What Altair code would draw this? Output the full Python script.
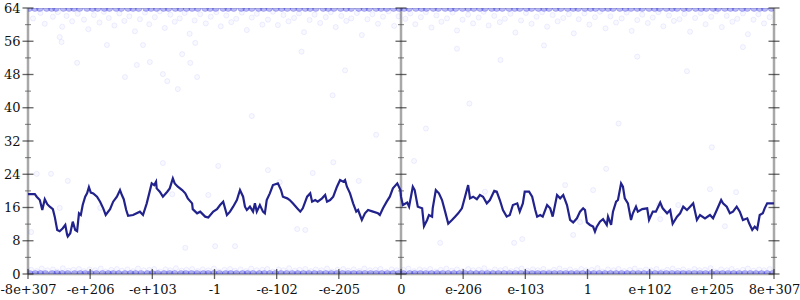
import altair as alt
import pandas as pd

# ---------------- data ----------------
x_labels = ["-8e+307", "-e+206", "-e+103", "-1", "-e-102", "-e-205", "0",
            "e-206", "e-103", "1", "e+102", "e+205", "8e+307"]
y_ticks = [0, 8, 16, 24, 32, 40, 48, 56, 64]
y_minor = [4, 12, 20, 28, 36, 44, 52, 60]

line_x = [0.0, 0.11, 0.14, 0.19, 0.23, 0.27, 0.31, 0.35, 0.40, 0.43, 0.47, 0.51, 0.56, 0.60,
          0.63, 0.64, 0.68, 0.72, 0.76, 0.79, 0.82, 0.85, 0.88, 0.92, 0.95, 0.98, 1.01, 1.05,
          1.11, 1.16, 1.21, 1.25, 1.32, 1.37, 1.43, 1.48, 1.51, 1.54, 1.58, 1.61, 1.69, 1.80,
          1.85, 1.91, 1.95, 1.99, 2.03, 2.06, 2.07, 2.12, 2.17, 2.24, 2.28, 2.33, 2.36, 2.41,
          2.48, 2.53, 2.57, 2.64, 2.65, 2.72, 2.77, 2.85, 2.90, 2.98, 3.04, 3.09, 3.14, 3.20,
          3.25, 3.30, 3.36, 3.41, 3.46, 3.49, 3.52, 3.57, 3.62, 3.65, 3.68, 3.73, 3.78, 3.81,
          3.84, 3.89, 3.94, 4.02, 4.07, 4.10, 4.17, 4.21, 4.26, 4.33, 4.38, 4.42, 4.49, 4.54,
          4.57, 4.62, 4.66, 4.73, 4.78, 4.81, 4.86, 4.91, 4.97, 5.02, 5.07, 5.10, 5.13, 5.18,
          5.23, 5.28, 5.31, 5.37, 5.42, 5.47, 5.55, 5.63, 5.66, 5.71, 5.77, 5.82, 5.87, 5.94,
          5.99,
          6.0, 6.03, 6.10, 6.13, 6.19, 6.22, 6.27, 6.34, 6.37, 6.42, 6.45, 6.50, 6.51, 6.56,
          6.61, 6.66, 6.71, 6.76, 6.82, 6.87, 6.92, 6.98, 7.03, 7.08, 7.11, 7.16, 7.22, 7.27,
          7.32, 7.38, 7.43, 7.50, 7.54, 7.59, 7.64, 7.70, 7.75, 7.80, 7.87, 7.91, 7.96, 7.99,
          8.06, 8.11, 8.16, 8.19, 8.24, 8.28, 8.35, 8.40, 8.44, 8.51, 8.56, 8.61, 8.67, 8.72,
          8.77, 8.83, 8.88, 8.93, 8.96, 8.99, 9.04, 9.09, 9.12, 9.15, 9.20, 9.25, 9.31, 9.33,
          9.38, 9.41, 9.46, 9.49, 9.54, 9.57, 9.60, 9.65, 9.70, 9.73, 9.78, 9.81, 9.88, 9.96,
          9.99, 10.05, 10.10, 10.17, 10.21, 10.28, 10.33, 10.37, 10.44, 10.49, 10.54, 10.60,
          10.65, 10.70, 10.76, 10.81, 10.89, 10.97, 11.02, 11.08, 11.15, 11.18, 11.24, 11.29,
          11.34, 11.40, 11.45, 11.50, 11.57, 11.60, 11.65, 11.69, 11.73, 11.77, 11.82, 11.85,
          11.89, 12.0]
line_y = [19.2, 19.2, 18.6, 17.8, 15.4, 18.0, 16.8, 16.2, 15.6, 13.8, 10.6, 10.3, 11.0, 11.8,
          9.4, 9.0, 9.8, 12.6, 10.6, 10.3, 14.6, 14.2, 16.6, 18.6, 19.4, 20.9, 19.6, 19.4,
          18.6, 17.4, 15.8, 14.2, 15.6, 17.4, 18.6, 20.2, 19.0, 18.0, 15.4, 14.0, 14.2, 15.0,
          14.2, 17.0, 19.4, 21.8, 21.4, 22.2, 20.6, 19.8, 18.6, 19.8, 20.6, 23.0, 21.8, 21.0,
          20.2, 19.4, 18.2, 17.0, 15.6, 14.6, 15.0, 13.8, 13.6, 15.0, 15.6, 16.6, 17.4, 14.2,
          15.0, 16.2, 17.8, 20.2, 18.6, 16.2, 15.4, 16.2, 15.0, 17.0, 15.0, 16.6, 15.0, 14.6,
          17.8, 19.4, 21.4, 21.8, 20.2, 18.6, 18.2, 17.8, 17.0, 15.8, 15.0, 15.8, 18.6, 19.4,
          17.4, 17.8, 17.4, 18.2, 19.0, 17.4, 17.8, 18.6, 21.0, 22.6, 22.2, 22.6, 21.0, 19.4,
          17.0, 15.0, 15.4, 13.0, 14.6, 15.4, 15.0, 14.6, 14.2, 15.8, 17.4, 18.6, 20.6, 21.8,
          20.2,
          18.6, 16.6, 17.2, 16.2, 21.0, 20.2, 16.2, 15.8, 11.5, 13.0, 14.2, 13.8, 15.8, 20.2,
          19.4, 17.8, 15.0, 12.1, 13.0, 13.8, 14.6, 15.8, 18.6, 21.4, 18.2, 18.6, 18.0, 19.0,
          18.6, 17.0, 17.8, 20.0, 19.8, 17.8, 15.4, 13.8, 14.2, 16.6, 17.0, 15.0, 17.0, 19.8,
          19.8, 18.6, 15.4, 13.8, 14.2, 13.8, 16.6, 15.8, 13.8, 19.0, 18.2, 19.0, 16.6, 13.0,
          12.4, 13.4, 15.0, 15.8, 15.4, 12.4, 11.8, 11.4, 10.2, 11.4, 12.6, 13.2, 11.8, 13.8,
          11.8, 15.0, 17.4, 17.8, 21.8, 21.0, 18.2, 17.0, 13.0, 14.6, 16.2, 15.0, 15.6, 15.8,
          13.0, 15.0, 15.0, 17.2, 15.8, 14.6, 15.4, 12.1, 13.8, 14.6, 16.2, 15.4, 16.2, 17.0,
          13.0, 14.2, 13.4, 14.2, 13.4, 15.4, 17.8, 17.0, 16.2, 14.6, 15.0, 16.2, 15.0, 13.0,
          13.4, 12.2, 10.6, 11.4, 10.8, 14.2, 14.6, 15.8, 17.0, 17.0]

top_row_x = [0.02, 0.11, 0.19, 0.3, 0.38, 0.45, 0.57, 0.66, 0.74, 0.83, 0.95, 1.04, 1.12, 1.23,
             1.31, 1.42, 1.5, 1.61, 1.69, 1.78, 1.9, 1.98, 2.07, 2.18, 2.26, 2.37, 2.45, 2.55,
             2.64, 2.73, 2.85, 2.93, 3.02, 3.14, 3.22, 3.31, 3.43, 3.51, 3.6, 3.71, 3.79, 3.88,
             3.99, 4.08, 4.17, 4.27, 4.36, 4.46, 4.54, 4.63, 4.75, 4.83, 4.92, 5.03, 5.12, 5.2,
             5.32, 5.41, 5.49, 5.6, 5.68, 5.77, 5.88, 5.97, 6.05, 6.13, 6.24, 6.33, 6.41, 6.52,
             6.6, 6.71, 6.8, 6.88, 6.99, 7.08, 7.17, 7.27, 7.35, 7.46, 7.54, 7.63, 7.74, 7.83,
             7.91, 8.02, 8.1, 8.21, 8.3, 8.38, 8.49, 8.57, 8.68, 8.77, 8.85, 8.96, 9.05, 9.13,
             9.24, 9.33, 9.41, 9.52, 9.61, 9.7, 9.8, 9.88, 9.99, 10.08, 10.16, 10.27, 10.36,
             10.44, 10.55, 10.63, 10.74, 10.83, 10.91, 11.02, 11.1, 11.21, 11.3, 11.38, 11.49,
             11.57, 11.68, 11.77, 11.85, 11.96]
bottom_row_x = [0.03, 0.12, 0.2, 0.28, 0.39, 0.47, 0.55, 0.64, 0.75, 0.84, 0.92, 1.01, 1.1,
                1.2, 1.29, 1.37, 1.46, 1.56, 1.65, 1.73, 1.82, 1.92, 2.0, 2.09, 2.19, 2.28,
                2.36, 2.46, 2.54, 2.63, 2.72, 2.82, 2.9, 2.99, 3.08, 3.18, 3.26, 3.35, 3.45,
                3.53, 3.62, 3.72, 3.8, 3.89, 3.98, 4.07, 4.16, 4.25, 4.34, 4.43, 4.52, 4.61,
                4.7, 4.79, 4.88, 4.97, 5.06, 5.15, 5.24, 5.33, 5.42, 5.51, 5.6, 5.69, 5.78,
                5.87, 5.96, 6.04, 6.14, 6.22, 6.31, 6.4, 6.49, 6.58, 6.67, 6.76, 6.85, 6.94,
                7.03, 7.12, 7.21, 7.3, 7.39, 7.48, 7.57, 7.66, 7.75, 7.84, 7.93, 8.02, 8.11,
                8.2, 8.29, 8.38, 8.47, 8.56, 8.65, 8.74, 8.83, 8.92, 9.01, 9.1, 9.19, 9.28,
                9.37, 9.46, 9.55, 9.64, 9.73, 9.82, 9.91, 10.0, 10.09, 10.18, 10.27, 10.36,
                10.45, 10.54, 10.63, 10.72, 10.81, 10.9, 10.99, 11.08, 11.17, 11.26, 11.35,
                11.44, 11.53, 11.62, 11.71, 11.8, 11.89, 11.98]

top_cloud_x = [0.08, 0.2, 0.27, 0.4, 0.48, 0.55, 0.62, 0.71, 0.8, 0.9, 0.97, 1.06, 1.15, 1.22,
               1.3, 1.39, 1.47, 1.55, 1.63, 1.72, 1.8, 1.88, 1.95, 2.04, 2.12, 2.2, 2.29, 2.36,
               2.44, 2.52, 2.6, 2.68, 2.77, 2.86, 2.94, 3.03, 3.1, 3.19, 3.27, 3.35, 3.44, 3.52,
               3.6, 3.68, 3.77, 3.86, 3.94, 4.02, 4.11, 4.19, 4.28, 4.36, 4.44, 4.53, 4.61, 4.7,
               4.79, 4.87, 4.95, 5.04, 5.12, 5.2, 5.29, 5.37, 5.46, 5.54, 5.63, 5.71, 5.8, 5.89,
               5.96, 6.07, 6.15, 6.23, 6.32, 6.4, 6.49, 6.57, 6.65, 6.74, 6.83, 6.9, 6.99, 7.08,
               7.16, 7.25, 7.33, 7.41, 7.5, 7.59, 7.67, 7.76, 7.84, 7.93, 8.01, 8.1, 8.18, 8.27,
               8.35, 8.44, 8.52, 8.61, 8.7, 8.78, 8.86, 8.95, 9.03, 9.12, 9.2, 9.29, 9.37, 9.46,
               9.55, 9.63, 9.71, 9.8, 9.88, 9.97, 10.05, 10.14, 10.22, 10.31, 10.39, 10.48,
               10.56, 10.65, 10.73, 10.82, 10.9, 10.99, 11.07, 11.16, 11.24, 11.33, 11.41, 11.5,
               11.58, 11.67, 11.75, 11.84, 11.93]
top_cloud_y = [61.5, 62.8, 60.2, 61.9, 63.0, 59.5, 62.1, 60.8, 62.6, 61.2, 58.9, 62.3, 60.5, 63.1,
               61.6, 59.8, 62.7, 60.9, 62.0, 58.4, 61.3, 62.9, 60.1, 61.8, 63.2, 59.2, 62.4, 60.7,
               61.5, 62.8, 57.8, 61.0, 62.5, 60.3, 61.9, 63.0, 59.6, 62.2, 60.6, 61.4, 62.9, 58.7,
               61.7, 62.6, 60.0, 61.2, 63.1, 59.9, 62.3, 60.8, 61.6, 62.7, 58.2, 61.1, 62.4, 60.4,
               61.8, 63.0, 59.4, 62.1, 60.9, 61.5, 62.8, 57.5, 61.3, 62.5, 60.2, 61.9, 63.2, 59.7,
               62.0, 61.4, 62.7, 60.1, 61.8, 63.0, 59.3, 62.2, 60.7, 61.5, 62.9, 58.6, 61.2, 62.4,
               60.3, 61.7, 63.1, 59.8, 62.1, 60.6, 61.4, 62.6, 58.1, 61.0, 62.8, 60.2, 61.9, 63.0,
               59.5, 62.3, 60.8, 61.6, 62.5, 57.9, 61.3, 62.7, 60.0, 61.8, 63.1, 59.1, 62.0, 60.5,
               61.5, 62.9, 58.5, 61.1, 62.4, 60.4, 61.7, 63.0, 59.6, 62.2, 60.9, 61.3, 62.6, 58.3,
               61.6, 62.8, 60.1, 61.9, 63.2, 59.4, 62.1, 60.7, 61.4, 62.7, 57.7, 61.2, 62.5, 60.3,
               61.8]

bottom_cloud_x = [0.05, 0.14, 0.22, 0.31, 0.4, 0.47, 0.56, 0.65, 0.73, 0.82, 0.9, 0.99, 1.08,
                  1.17, 1.25, 1.34, 1.43, 1.51, 1.6, 1.69, 1.77, 1.86, 1.95, 2.03, 2.12, 2.21,
                  2.29, 2.38, 2.47, 2.55, 2.64, 2.73, 2.81, 2.9, 2.99, 3.07, 3.16, 3.25, 3.33,
                  3.42, 3.51, 3.59, 3.68, 3.77, 3.85, 3.94, 4.03, 4.11, 4.2, 4.29, 4.37, 4.46,
                  4.55, 4.63, 4.72, 4.81, 4.89, 4.98, 5.07, 5.15, 5.24, 5.33, 5.41, 5.5, 5.59,
                  5.67, 5.76, 5.85, 5.93, 6.04, 6.12, 6.21, 6.3, 6.38, 6.47, 6.56, 6.64, 6.73,
                  6.82, 6.9, 6.99, 7.08, 7.16, 7.25, 7.34, 7.42, 7.51, 7.6, 7.68, 7.77, 7.86,
                  7.94, 8.03, 8.12, 8.2, 8.29, 8.38, 8.46, 8.55, 8.64, 8.72, 8.81, 8.9, 8.98,
                  9.07, 9.16, 9.24, 9.33, 9.42, 9.5, 9.59, 9.68, 9.76, 9.85, 9.94, 10.02, 10.11,
                  10.2, 10.28, 10.37, 10.46, 10.54, 10.63, 10.72, 10.8, 10.89, 10.98, 11.06,
                  11.15, 11.24, 11.32, 11.41, 11.5, 11.58, 11.67, 11.76, 11.84, 11.93]
bottom_cloud_y = [1.0, 0.7, 1.3, 0.9, 1.1, 0.6, 1.4, 0.8, 1.0, 1.2, 0.7, 1.1, 0.9, 1.3, 0.6, 1.0,
                  1.2, 0.8, 1.1, 0.7, 1.3, 0.9, 1.0, 1.2, 0.6, 1.1, 0.9, 1.4, 0.8, 1.0, 1.2, 0.7,
                  1.1, 0.9, 1.3, 0.6, 1.0, 1.2, 0.8, 1.1, 0.7, 1.3, 0.9, 1.0, 1.2, 0.6, 1.1, 0.9,
                  1.4, 0.8, 1.0, 1.2, 0.7, 1.1, 0.9, 1.3, 0.6, 1.0, 1.2, 0.8, 1.1, 0.7, 1.3, 0.9,
                  1.0, 1.2, 0.6, 1.1, 0.9, 1.0, 1.3, 0.7, 1.1, 0.9, 1.2, 0.6, 1.0, 1.3, 0.8, 1.1,
                  0.7, 1.2, 0.9, 1.0, 1.4, 0.6, 1.1, 0.9, 1.2, 0.7, 1.0, 1.3, 0.8, 1.1, 0.9, 1.2,
                  0.6, 1.0, 1.3, 0.8, 1.1, 0.7, 1.2, 0.9, 1.0, 1.4, 0.6, 1.1, 0.9, 1.2, 0.7, 1.0,
                  1.3, 0.8, 1.1, 0.9, 1.2, 0.6, 1.0, 1.3, 0.8, 1.1, 0.7, 1.2, 0.9, 1.0, 1.4, 0.6,
                  1.1, 0.9, 1.2, 0.7, 1.0, 1.3, 0.8, 1.1, 0.9, 1.2]

sparse_x = [0.14, 0.37, 0.64, 0.05, 0.51, 1.16, 2.32, 2.17, 2.90, 3.06, 3.86, 4.05, 4.33, 4.46,
            4.58, 4.91, 5.32, 2.53, 3.01, 3.33, 6.21, 6.63, 7.82, 7.95, 8.64, 9.09, 9.30, 10.17,
            10.46, 10.97, 11.21, 11.39, 8.77, 8.88, 7.35, 10.15,
            0.79, 1.27, 1.75, 1.96, 1.56, 2.17, 2.24, 2.48, 2.61, 2.72, 2.41, 0.51, 0.54, 1.85,
            2.69, 4.4, 5.1, 6.9, 7.6, 8.3, 9.8, 10.6, 11.5, 3.6, 5.6, 7.1, 9.5, 11.0, 4.9, 6.4]
sparse_y = [24.1, 24.1, 22.4, 10.1, 15.9, 15.9, 19.2, 26.7, 19.0, 26.0, 25.0, 22.1, 10.8, 10.6,
            24.3, 26.9, 22.4, 6.3, 6.7, 6.7, 27.2, 7.5, 7.5, 8.4, 21.4, 20.2, 25.3, 13.2,
            16.6, 20.4, 11.5, 19.7, 9.4, 12.5, 19.8, 16.6,
            50.8, 55.1, 50.3, 51.0, 47.4, 48.1, 46.4, 52.9, 50.8, 47.4, 44.5, 57.0, 55.8, 55.1,
            55.6, 53.5, 49.0, 54.2, 51.5, 55.0, 52.3, 48.8, 54.6, 38.0, 33.5, 41.0, 36.2, 30.5,
            43.0, 35.0]

# ---------------- tables ----------------
line_df = pd.DataFrame({"x": line_x, "y": line_y})
pts_df = pd.DataFrame({
    "x": top_cloud_x + bottom_cloud_x + sparse_x,
    "y": top_cloud_y + bottom_cloud_y + sparse_y,
})
rows_df = pd.DataFrame({
    "x": top_row_x + bottom_row_x,
    "y": [64] * len(top_row_x) + [0] * len(bottom_row_x),
})

ytick_rows = []
for xv in [0, 6, 12]:
    for t in y_ticks:
        ytick_rows.append({"x": xv, "y": t, "kind": "major"})
    for t in y_minor:
        ytick_rows.append({"x": xv, "y": t, "kind": "minor"})
ytick_df = pd.DataFrame(ytick_rows)
xtick_df = pd.DataFrame({"x": list(range(len(x_labels))), "y": [0] * len(x_labels)})
vline_df = pd.DataFrame({"x": [0, 6, 12], "y": [0, 0, 0], "y2": [64, 64, 64]})

label_expr = "[" + ",".join("'%s'" % s for s in x_labels) + "][datum.value]"

xscale = alt.Scale(domain=[0, 12], nice=False, zero=False)
yscale = alt.Scale(domain=[0, 64], nice=False, zero=False)

x_axis = alt.Axis(values=list(range(len(x_labels))), labelExpr=label_expr, title=None,
                  domain=False, ticks=False, tickSize=0, grid=False, labelPadding=9,
                  labelFont="DejaVu Serif", labelFontSize=13, labelColor="#111",
                  labelFlush=False, labelOverlap=False)
y_axis = alt.Axis(values=y_ticks, title=None, domain=False, ticks=False, tickSize=0,
                  grid=False, labelPadding=8, labelFont="DejaVu Serif", labelFontSize=13,
                  labelColor="#111")

base_x = alt.X("x:Q", scale=xscale, axis=x_axis)
base_y = alt.Y("y:Q", scale=yscale, axis=y_axis)

gray = "#a8a8a8"

vlines = alt.Chart(vline_df).mark_rule(color=gray, strokeWidth=2.5).encode(
    x=base_x, y=base_y, y2="y2:Q")
hline = alt.Chart(pd.DataFrame({"x": [0], "x2": [12], "y": [0]})).mark_rule(
    color=gray, strokeWidth=2.5).encode(x=base_x, x2="x2:Q", y=base_y)

ticks_major = alt.Chart(ytick_df[ytick_df.kind == "major"]).mark_tick(
    orient="horizontal", size=11, thickness=1.3, color="#222").encode(x=base_x, y=base_y)
ticks_minor = alt.Chart(ytick_df[ytick_df.kind == "minor"]).mark_tick(
    orient="horizontal", size=6, thickness=1.1, color="#555").encode(x=base_x, y=base_y)
xticks = alt.Chart(xtick_df).mark_tick(
    orient="vertical", size=10, thickness=1.3, color="#222").encode(x=base_x, y=base_y)

cloud = alt.Chart(pts_df).mark_point(
    shape="circle", size=26, filled=False, fill="#4040ff", fillOpacity=0.04,
    stroke="#4040ff", strokeOpacity=0.08, strokeWidth=1).encode(x=base_x, y=base_y)
rows = alt.Chart(rows_df).mark_point(
    shape="circle", size=48, filled=False, fill="#2828e0", fillOpacity=0.32,
    stroke="#2828e0", strokeOpacity=0.22, strokeWidth=1, clip=True).encode(x=base_x, y=base_y)

line = alt.Chart(line_df).mark_line(color="#22228c", strokeWidth=2.2).encode(
    x=base_x, y=base_y)

chart = alt.layer(vlines, hline, cloud, rows, ticks_minor, ticks_major, xticks, line).properties(
    width=746, height=266,
    autosize=alt.AutoSizeParams(type="none"),
    padding={"left": 28, "top": 8, "right": 26, "bottom": 26},
).configure_view(stroke=None).configure(background="white")

chart.save("out.html", embed_options={"renderer": "svg", "actions": False})
